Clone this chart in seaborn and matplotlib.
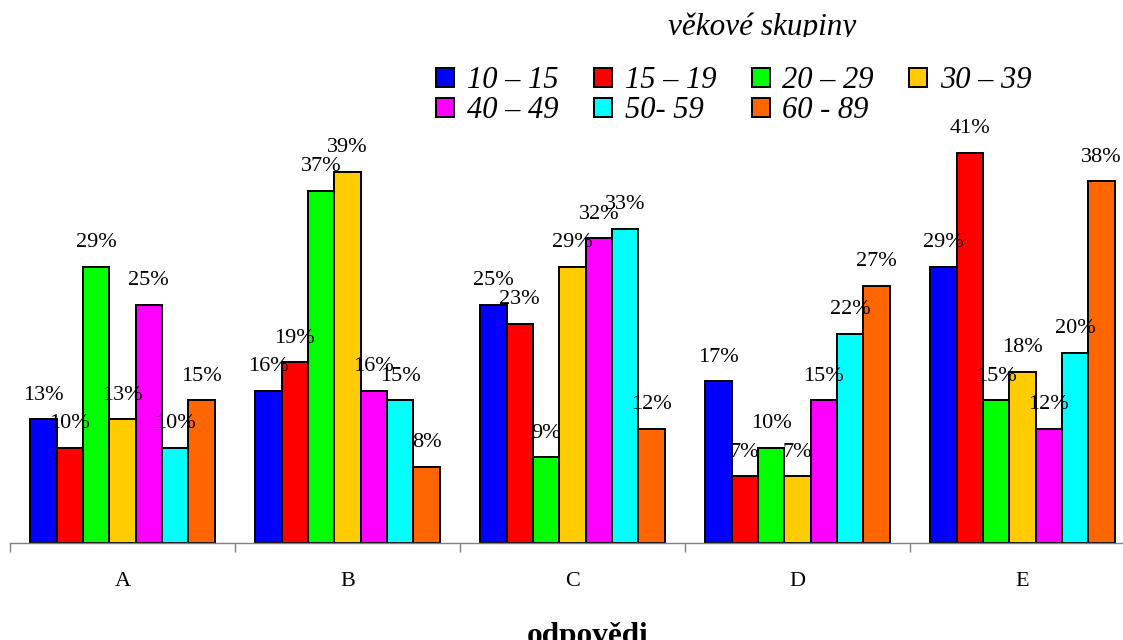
import numpy as np
import pandas as pd
import matplotlib
matplotlib.use("Agg")
import matplotlib.pyplot as plt
from matplotlib.transforms import Bbox, TransformedBbox
import seaborn as sns

# Answers (categories) and age groups
categories = ["A", "B", "C", "D", "E"]
groups = ["10 – 15", "15 – 19", "20 – 29", "30 – 39", "40 – 49", "50- 59", "60 - 89"]
colors = ["#0000FF", "#FF0000", "#00FF00", "#FFCC00", "#FF00FF", "#00FFFF", "#FF6600"]

# Share of answers per age group (%)
g_10_15 = [13, 16, 25, 17, 29]
g_15_19 = [10, 19, 23, 7, 41]
g_20_29 = [29, 37, 9, 10, 15]
g_30_39 = [13, 39, 29, 7, 18]
g_40_49 = [25, 16, 32, 15, 12]
g_50_59 = [10, 15, 33, 22, 20]
g_60_89 = [15, 8, 12, 27, 38]

series = [g_10_15, g_15_19, g_20_29, g_30_39, g_40_49, g_50_59, g_60_89]
df = pd.DataFrame(
    [(c, g, v) for g, vals in zip(groups, series) for c, v in zip(categories, vals)],
    columns=["odpověď", "skupina", "podíl"],
)

sns.set_theme(style="white")
plt.rcParams["font.family"] = ["Liberation Serif", "DejaVu Serif"]
plt.rcParams["text.color"] = "black"
plt.rcParams["xtick.labelcolor"] = "black"

W, H = 1123, 640
fig = plt.figure(figsize=(W / 100, H / 100), dpi=100)
ax = fig.add_axes([10 / W, 97 / H, 1125 / W, 543 / H])

sns.barplot(
    data=df, x="odpověď", y="podíl", hue="skupina",
    order=categories, hue_order=groups, palette=colors,
    width=0.82, gap=0, saturation=1,
    edgecolor="black", linewidth=1.4, ax=ax, legend=True,
)

handles, labels = ax.get_legend_handles_labels()
ax.get_legend().remove()

for cont in ax.containers:
    ax.bar_label(cont, fmt="%g%%", padding=10.5, fontsize=16, color="black")

ax.set_xlim(-0.5, 4.5)
ax.set_ylim(0, 543 / 9.52)
ax.set_xlabel("")
ax.set_ylabel("")
ax.set_yticks([])

# group separators as major ticks, category names on minor ticks
bounds = np.arange(-0.5, 5.0, 1.0)
ax.set_xticks(bounds, labels=[""] * len(bounds))
ax.set_xticks(np.arange(len(categories)), labels=categories, minor=True)
ax.tick_params(axis="x", which="major", length=6.5, width=1, color="#808080",
               direction="out", bottom=True)
ax.tick_params(axis="x", which="minor", length=0, pad=21, labelsize=16,
               labelcolor="black", bottom=True)

for side in ("left", "top", "right"):
    ax.spines[side].set_visible(False)
ax.spines["bottom"].set_color("#808080")
ax.spines["bottom"].set_linewidth(1)

# title of the legend, its lower edge hidden under the legend area
title = fig.text(762 / W, 1 - 35 / H, "věkové skupiny", ha="center", va="baseline",
                 fontsize=22.5, style="italic", family="Liberation Serif", color="black")
title.set_clip_box(TransformedBbox(Bbox([[0, 1 - 37 / H], [1, 1]]), fig.transFigure))
title.set_clip_on(True)

order = [0, 4, 1, 5, 2, 6, 3]
fig.legend(
    [handles[i] for i in order], [labels[i] for i in order],
    ncol=4, loc="upper left", bbox_to_anchor=(411.5 / W, 1 - 42 / H),
    prop=dict(family="Liberation Serif", style="italic", size=22),
    handlelength=0.59, handleheight=0.59, handletextpad=0.42,
    columnspacing=1.16, labelspacing=0.02, borderpad=0.8, borderaxespad=0,
    frameon=False,
)

fig.text(588 / W, -4 / H, "odpovědi", ha="center", va="baseline",
         fontsize=22.5, fontweight="bold", family="Liberation Serif", color="black")

fig.savefig("out.png", dpi=100, facecolor="white")
